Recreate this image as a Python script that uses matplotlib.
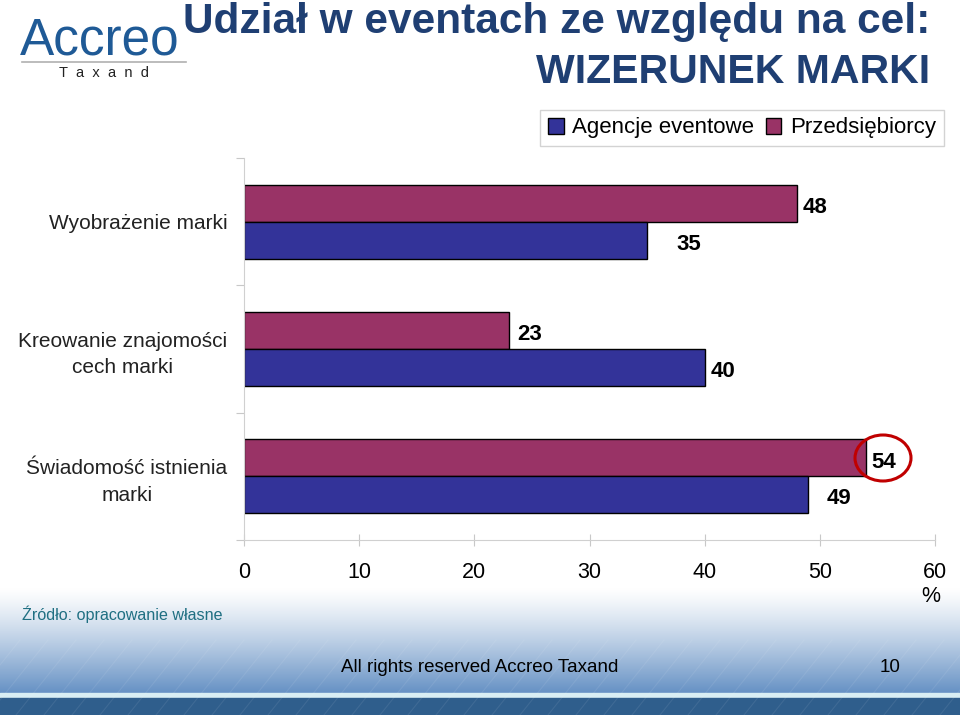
import matplotlib.pyplot as plt
import numpy as np
from matplotlib.patches import Ellipse

plt.rcParams['font.family'] = ['Liberation Sans', 'DejaVu Sans']

kategorie = ['Wyobrażenie marki', 'Kreowanie znajomości\ncech marki', 'Świadomość istnienia\nmarki']
agencje = [35, 40, 49]
przedsiebiorcy = [48, 23, 54]
serie = ['Agencje eventowe', 'Przedsiębiorcy']
kolory = ['#333399', '#993366']
x_ticks = [0, 10, 20, 30, 40, 50, 60]

# przesuniecia etykiet (px) jak w oryginale
dx_p = [6, 8, 5]
dx_a = [29, 6, 18]

W, H = 960, 715
fig = plt.figure(figsize=(W / 100, H / 100), dpi=100)

# tlo stopki (gradient)
bg = fig.add_axes([0, 0, 1, 1], zorder=0)
bg.set_xlim(0, W)
bg.set_ylim(H, 0)
bg.axis('off')
grad = np.linspace(0, 1, 200).reshape(-1, 1)
top = np.array([1.0, 1.0, 1.0])
bot = np.array([0.40, 0.57, 0.77])
img = top + (bot - top) * grad[..., None] ** 1.2
img = np.repeat(img, 2, axis=1)
bg.imshow(img, extent=[0, W, 693, 588], aspect='auto', zorder=0)
bg.fill_between([0, W], 693, 698, color='#d8eef4', zorder=1)
bg.fill_between([0, W], 698, 715, color='#2f5e8c', zorder=1)
for k in range(-40, 1000, 28):
    bg.plot([k, k + 60], [715, 640], color='white', alpha=0.08, lw=0.8, zorder=2)

# logo
fig.text(20 / W, 1 - 41 / H, 'Accreo', fontsize=37, color='#1f5a96', va='center', ha='left')
bg.plot([22, 186], [62, 62], color='#b0b0b0', lw=1.2)
fig.text(104 / W, 1 - 73 / H, 'T  a  x  a  n  d', fontsize=10.5, color='#222222', ha='center', va='center')

# tytul
fig.text(930 / W, 1 - 22 / H, 'Udział w eventach ze względu na cel:', fontsize=30.5, fontweight='bold',
         color='#1f3f73', ha='right', va='center')
fig.text(930 / W, 1 - 72 / H, 'WIZERUNEK MARKI', fontsize=29.5, fontweight='bold',
         color='#1f3f73', ha='right', va='center')

# wykres
ax = fig.add_axes([244 / W, 1 - 540 / H, (935 - 244) / W, (540 - 158) / H], zorder=3)
ax.patch.set_alpha(0)
y = np.arange(len(kategorie))
h = 0.29
b_p = ax.barh(y - h / 2, przedsiebiorcy, height=h, color=kolory[1], edgecolor='black', lw=1, label=serie[1])
b_a = ax.barh(y + h / 2, agencje, height=h, color=kolory[0], edgecolor='black', lw=1, label=serie[0])
for bars, dxs in ((b_p, dx_p), (b_a, dx_a)):
    for r, dx in zip(bars, dxs):
        ax.annotate(f'{int(r.get_width())}', (r.get_width(), r.get_y() + r.get_height() / 2),
                    xytext=(dx * 0.72, -3), textcoords='offset points', ha='left', va='center',
                    fontsize=16, fontweight='bold')

ax.set_xlim(0, 60)
ax.set_ylim(2.5, -0.5)
ax.set_yticks([-0.5, 0.5, 1.5, 2.5])
ax.set_yticklabels([])
ax.set_yticks(y, minor=True)
ax.set_yticklabels(kategorie, minor=True, fontsize=15, color='#222222', linespacing=1.5)
ax.tick_params(axis='y', which='minor', length=0, pad=12)
ax.tick_params(axis='y', which='major', length=6, color='#c8c8c8')
ax.set_xticks(x_ticks)
ax.set_xticklabels([str(v) for v in x_ticks], fontsize=15.5)
ax.tick_params(axis='x', direction='inout', length=8, color='#c8c8c8', pad=12)
for s in ['top', 'right']:
    ax.spines[s].set_visible(False)
for s in ['left', 'bottom']:
    ax.spines[s].set_color('#d0d0d0')
for lab in ax.get_yticklabels(minor=True):
    lab.set_multialignment('center')

fig.text(931 / W, 1 - 597 / H, '%', fontsize=15.5, ha='center', va='center')

# kolko wokol 54
ax.add_patch(Ellipse((883, H - 458), 56, 46, transform=None, fill=False, ec='#c00000', lw=2.2, zorder=5))

# legenda
handles = [plt.Rectangle((0, 0), 1, 1, fc=kolory[0], ec='black'),
           plt.Rectangle((0, 0), 1, 1, fc=kolory[1], ec='black')]
leg = fig.legend(handles, serie, loc='center', bbox_to_anchor=(742 / W, 1 - 128 / H), ncol=2,
                 fontsize=16, frameon=True, fancybox=False, edgecolor='#c8c8c8',
                 handlelength=0.7, handleheight=0.7, handletextpad=0.4, columnspacing=0.5,
                 borderpad=0.35)

# stopka
fig.text(22 / W, 1 - 614 / H, 'Źródło: opracowanie własne', fontsize=11.6, color='#1f6f82', ha='left', va='center')
fig.text(480 / W, 1 - 667 / H, 'All rights reserved Accreo Taxand', fontsize=13.5, ha='center', va='center')
fig.text(890 / W, 1 - 667 / H, '10', fontsize=13.5, ha='center', va='center')

fig.savefig('out.png', dpi=100)
